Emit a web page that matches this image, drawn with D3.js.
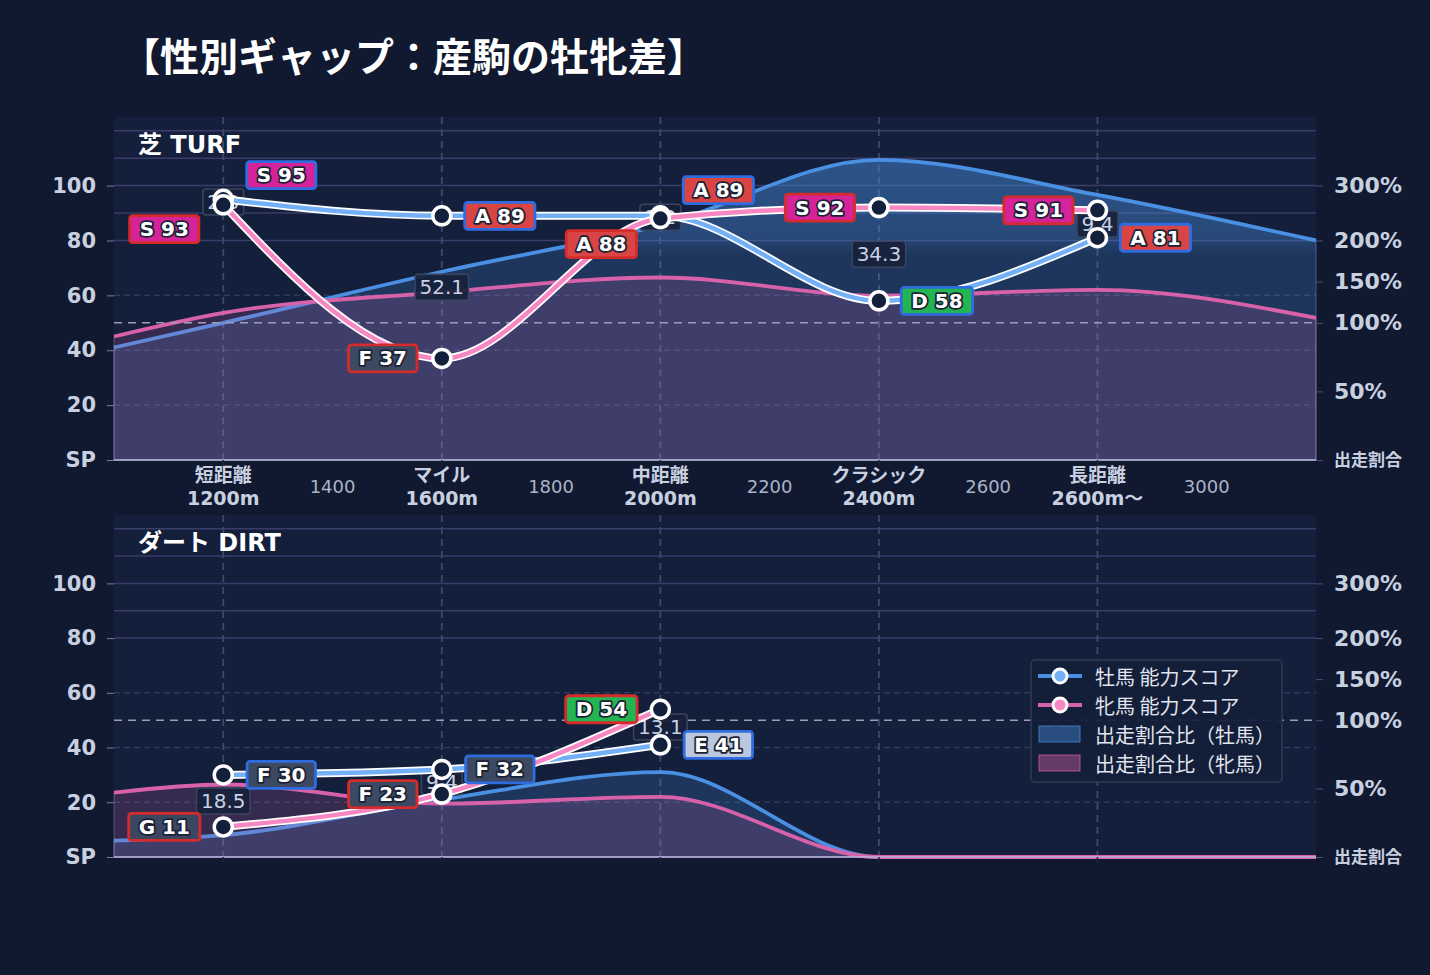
<!DOCTYPE html>
<html lang="ja">
<head>
<meta charset="utf-8">
<title>性別ギャップ：産駒の牡牝差</title>
<script src="https://cdn.jsdelivr.net/npm/d3@7/dist/d3.min.js"></script>
<style>
	html, body { margin: 0; padding: 0; background: #10192f; }
	svg { display: block; }
	text { font-family: "DejaVu Sans", "Noto Sans CJK JP", sans-serif; }
</style>
</head>
<body>
<svg id="chart" width="1430" height="975"></svg>
<script>
// categories / x axis
var categories = ['短距離', 'マイル', '中距離', 'クラシック', '長距離'];
var categoryDistances = [1200, 1600, 2000, 2400, 2800];
var categorySubLabels = ['1200m', '1600m', '2000m', '2400m', '2600m〜'];
var minorDistances = [1400, 1800, 2200, 2600, 3000];

// y axes
var scoreTicks = [0, 20, 40, 60, 80, 100];
var scoreTickLabels = ['SP', '20', '40', '60', '80', '100'];
var shareTicks = [0, 0.5, 1, 1.5, 2, 3];
var shareTickLabels = ['出走割合', '50%', '100%', '150%', '200%', '300%'];

// 芝 TURF
var turfMaleScore = [95, 89, 89, 58, 81];
var turfFemaleScore = [93, 37, 88, 92, 91];
var turfMaleGrade = ['S', 'A', 'A', 'D', 'A'];
var turfFemaleGrade = ['S', 'F', 'A', 'S', 'S'];
var turfGap = ['2.3', '52.1', '1.2', '34.3', '9.4'];

// ダート DIRT
var dirtMaleScore = [30, 32, 41, null, null];
var dirtFemaleScore = [11, 23, 54, null, null];
var dirtMaleGrade = ['F', 'F', 'E', null, null];
var dirtFemaleGrade = ['G', 'F', 'D', null, null];
var dirtGap = ['18.5', '9.4', '13.1', null, null];

// 出走割合比 (share ratio by distance)
var shareDistances = [1000, 1200, 1600, 2000, 2400, 2800, 3200];
var turfMaleShare = [0.82, 1.0, 1.62, 2.28, 3.47, 2.83, 2.0];
var turfFemaleShare = [0.90, 1.12, 1.37, 1.55, 1.33, 1.40, 1.06];
var dirtMaleShare = [0.12, 0.16, 0.42, 0.62, 0, 0, 0];
var dirtFemaleShare = [0.47, 0.53, 0.39, 0.44, 0, 0, 0];

var legendLabels = ['牡馬 能力スコア', '牝馬 能力スコア', '出走割合比（牡馬）', '出走割合比（牝馬）'];

(function () {
	'use strict';
	var svg, defs, x, shareToScore,
		gradeFill, maleColor, femaleColor,
		// Functions
		drawPanel, drawLabelBox, drawGapBox, drawLegend, buildSeries;

	svg = d3.select('#chart');
	defs = svg.append('defs');

	maleColor = { area: '#4a90e2', line: '#74b0f8', border: '#2f6ce0' };
	femaleColor = { area: '#d862aa', line: '#f787c2', border: '#d42b2b' };
	gradeFill = { S: '#d5239a', A: '#d94545', D: '#22b552', E: '#bcc6dc', F: '#3b4962', G: '#3b4760' };

	x = d3.scaleLinear().domain([1000, 3200]).range([114, 1316]);

	// right axis is not linear: 100% sits on 50, 200% on 80, 300% on 100
	shareToScore = d3.scaleLinear().domain([0, 1, 1.5, 2, 3, 4]).range([0, 50, 65, 80, 100, 120]);

	// background
	svg.append('rect').attr('width', 1430).attr('height', 975).attr('fill', '#10192f');

	svg.append('text')
		.attr('x', 121)
		.attr('y', 71)
		.attr('fill', '#ffffff')
		.attr('font-size', 39)
		.attr('font-weight', 'bold')
		.style('font-family', '"Noto Sans CJK JP", sans-serif')
		.text('【性別ギャップ：産駒の牡牝差】');

	buildSeries = function (scores, grades, gaps) {
		return categoryDistances.map(function (d, i) {
			return { dist: d, score: scores[i], grade: grades[i], gap: gaps ? gaps[i] : null };
		}).filter(function (d) { return d.score !== null; });
	};

	drawLabelBox = function (g, cx, cy, grade, score, border) {
		var box = g.append('g'), t, w;
		t = box.append('text')
			.attr('x', cx)
			.attr('y', cy)
			.attr('text-anchor', 'middle')
			.attr('dominant-baseline', 'central')
			.attr('font-size', 20)
			.attr('font-weight', 'bold')
			.attr('fill', '#ffffff')
			.attr('stroke', '#1b2236')
			.attr('stroke-width', 3.5)
			.attr('paint-order', 'stroke')
			.attr('stroke-linejoin', 'round')
			.text(grade + ' ' + score);
		w = t.node().getComputedTextLength() + 20;
		box.insert('rect', 'text')
			.attr('x', cx - w / 2)
			.attr('y', cy - 13.5)
			.attr('width', w)
			.attr('height', 27)
			.attr('rx', 3)
			.attr('fill', gradeFill[grade])
			.attr('stroke', border)
			.attr('stroke-width', 2.8);
	};

	drawGapBox = function (g, cx, cy, label) {
		var box = g.append('g'), t, w;
		t = box.append('text')
			.attr('x', cx)
			.attr('y', cy)
			.attr('text-anchor', 'middle')
			.attr('dominant-baseline', 'central')
			.attr('font-size', 20)
			.attr('fill', '#c9d2e3')
			.text(label);
		w = t.node().getComputedTextLength() + 9;
		box.insert('rect', 'text')
			.attr('x', cx - w / 2)
			.attr('y', cy - 13)
			.attr('width', w)
			.attr('height', 26)
			.attr('rx', 3)
			.attr('fill', '#17213b')
			.attr('fill-opacity', 0.92)
			.attr('stroke', '#3a4560')
			.attr('stroke-width', 1.5);
	};

	drawPanel = function (cfg) {
		var g = svg.append('g'),
			y, grad, area, line, shareLine, male, female, layer, gid;

		y = d3.scaleLinear().domain([0, 125]).range([cfg.bottom, cfg.top]);

		// panel background
		g.append('rect')
			.attr('x', x.range()[0])
			.attr('y', cfg.top)
			.attr('width', x.range()[1] - x.range()[0])
			.attr('height', cfg.bottom - cfg.top)
			.attr('fill', '#131f3b');

		// grid: solid band lines up top, dashed below
		g.selectAll('line.hgrid').data([80, 90, 100, 110, 120]).enter().append('line')
			.attr('x1', 114).attr('x2', 1316)
			.attr('y1', y).attr('y2', y)
			.attr('stroke', '#3a3c6a')
			.attr('stroke-width', 1.5);
		g.selectAll('line.hdash').data([20, 40, 60]).enter().append('line')
			.attr('x1', 114).attr('x2', 1316)
			.attr('y1', y).attr('y2', y)
			.attr('stroke', '#2d3a5a')
			.attr('stroke-width', 1.5)
			.attr('stroke-dasharray', '6,4');
		g.selectAll('line.vgrid').data(categoryDistances).enter().append('line')
			.attr('x1', x).attr('x2', x)
			.attr('y1', cfg.top).attr('y2', cfg.bottom)
			.attr('stroke', '#3e4a69')
			.attr('stroke-width', 1.8)
			.attr('stroke-dasharray', '7,5');

		// share ratio areas
		gid = 'grad-' + cfg.key;
		grad = defs.append('linearGradient')
			.attr('id', gid)
			.attr('gradientUnits', 'userSpaceOnUse')
			.attr('x1', 0).attr('x2', 0)
			.attr('y1', cfg.top).attr('y2', cfg.bottom);
		grad.append('stop').attr('offset', 0).attr('stop-color', maleColor.area).attr('stop-opacity', 0.52);
		grad.append('stop').attr('offset', 0.34).attr('stop-color', maleColor.area).attr('stop-opacity', 0.38);
		grad.append('stop').attr('offset', 0.4).attr('stop-color', maleColor.area).attr('stop-opacity', 0.2);
		grad.append('stop').attr('offset', 1).attr('stop-color', maleColor.area).attr('stop-opacity', 0.2);

		area = d3.area()
			.x(function (d) { return x(d[0]); })
			.y0(cfg.bottom)
			.y1(function (d) { return y(shareToScore(d[1])); })
			.curve(d3.curveMonotoneX);
		shareLine = area.lineY1();

		[
			{ values: cfg.maleShare, fill: 'url(#' + gid + ')', color: maleColor.area },
			{ values: cfg.femaleShare, fill: 'rgba(216,98,170,0.18)', color: femaleColor.area }
		].forEach(function (s) {
			var pts = d3.zip(shareDistances, s.values);
			g.append('path')
				.attr('d', area(pts))
				.attr('fill', s.fill)
				.attr('stroke', 'rgba(190,180,235,0.35)')
				.attr('stroke-width', 1);
			g.append('path')
				.attr('d', shareLine(pts))
				.attr('fill', 'none')
				.attr('stroke', s.color)
				.attr('stroke-width', 3.8);
		});

		// 100% reference
		g.append('line')
			.attr('x1', 114).attr('x2', 1316)
			.attr('y1', y(shareToScore(1))).attr('y2', y(shareToScore(1)))
			.attr('stroke', '#9d9cb9')
			.attr('stroke-width', 1.6)
			.attr('stroke-dasharray', '8,6');

		// bottom axis line
		g.append('line')
			.attr('x1', 114).attr('x2', 1316)
			.attr('y1', cfg.bottom).attr('y2', cfg.bottom)
			.attr('stroke', '#bab5dd')
			.attr('stroke-width', 1.5);

		// left axis
		g.append('g')
			.attr('transform', 'translate(114,0)')
			.call(d3.axisLeft(y).tickValues(scoreTicks).tickSize(7).tickPadding(11)
				.tickFormat(function (d, i) { return scoreTickLabels[i]; }))
			.call(function (a) {
				a.select('.domain').remove();
				a.selectAll('line').attr('stroke', '#7a8199');
				a.selectAll('text')
					.attr('fill', '#c8d0e0')
					.attr('font-size', 21)
					.attr('font-weight', 'bold')
					.style('font-family', null);
			});

		// right axis
		g.append('g')
			.attr('transform', 'translate(1316,0)')
			.call(d3.axisRight(y).tickValues(shareTicks.map(shareToScore)).tickSize(7).tickPadding(11)
				.tickFormat(function (d, i) { return shareTickLabels[i]; }))
			.call(function (a) {
				a.select('.domain').remove();
				a.selectAll('line').attr('stroke', '#4a5470');
				a.selectAll('text')
					.attr('fill', '#c8d0e0')
					.attr('font-size', function (d, i) { return i === 0 ? 17 : 22; })
					.attr('font-weight', 'bold')
					.style('font-family', null);
			});

		// category ticks
		g.selectAll('line.xtick').data(categoryDistances).enter().append('line')
			.attr('x1', x).attr('x2', x)
			.attr('y1', cfg.bottom).attr('y2', cfg.bottom + 6)
			.attr('stroke', '#1c2336')
			.attr('stroke-width', 1.5);

		if (cfg.showXLabels) {
			categories.forEach(function (c, i) {
				g.append('text')
					.attr('x', x(categoryDistances[i]))
					.attr('y', cfg.bottom + 22)
					.attr('text-anchor', 'middle')
					.attr('fill', '#c8d0e0')
					.attr('font-size', 19)
					.attr('font-weight', 'bold')
					.text(c);
				g.append('text')
					.attr('x', x(categoryDistances[i]))
					.attr('y', cfg.bottom + 45)
					.attr('text-anchor', 'middle')
					.attr('fill', '#c8d0e0')
					.attr('font-size', 19)
					.attr('font-weight', 'bold')
					.text(categorySubLabels[i]);
			});
			g.selectAll('text.minor').data(minorDistances).enter().append('text')
				.attr('x', x)
				.attr('y', cfg.bottom + 33)
				.attr('text-anchor', 'middle')
				.attr('fill', '#aab4c8')
				.attr('font-size', 18)
				.text(function (d) { return d; });
		}

		// panel title
		g.append('text')
			.attr('x', 138)
			.attr('y', cfg.top + 36)
			.attr('fill', '#ffffff')
			.attr('font-size', 24)
			.attr('font-weight', 'bold')
			.text(cfg.title);

		// score lines
		male = buildSeries(cfg.maleScore, cfg.maleGrade, cfg.gap);
		female = buildSeries(cfg.femaleScore, cfg.femaleGrade, null);

		// gap boxes sit under the lines
		male.forEach(function (d, i) {
			var f = female[i];
			if (f && d.gap) {
				drawGapBox(g, x(d.dist), (y(d.score) + y(f.score)) / 2, d.gap);
			}
		});

		line = d3.line()
			.x(function (d) { return x(d.dist); })
			.y(function (d) { return y(d.score); })
			.curve(d3.curveMonotoneX);

		[[male, maleColor], [female, femaleColor]].forEach(function (s) {
			g.append('path').attr('d', line(s[0]))
				.attr('fill', 'none').attr('stroke', '#ffffff').attr('stroke-width', 8);
			g.append('path').attr('d', line(s[0]))
				.attr('fill', 'none').attr('stroke', s[1].line).attr('stroke-width', 4.5);
		});

		layer = g.append('g');
		male.concat(female).forEach(function (d) {
			layer.append('circle')
				.attr('cx', x(d.dist))
				.attr('cy', y(d.score))
				.attr('r', 9)
				.attr('fill', '#13203b')
				.attr('stroke', '#ffffff')
				.attr('stroke-width', 3.5);
		});

		// grade labels: male to the right, female to the left, pushed apart when close
		male.forEach(function (d, i) {
			var f = female[i], ym = y(d.score), yf = y(f.score), mid;
			if (Math.abs(ym - yf) < 20) {
				mid = (ym + yf) / 2;
				ym = mid - 27;
				yf = mid + 27;
			}
			drawLabelBox(g, x(d.dist) + 58, ym, d.grade, d.score, maleColor.border);
			drawLabelBox(g, x(f.dist) - 59, yf, f.grade, f.score, femaleColor.border);
		});

		return g;
	};

	drawLegend = function (g) {
		var lg = g.append('g').attr('transform', 'translate(1031,660)');
		lg.append('rect')
			.attr('width', 251).attr('height', 122).attr('rx', 4)
			.attr('fill', '#141e38').attr('fill-opacity', 0.92)
			.attr('stroke', '#2f3a55').attr('stroke-width', 1.5);
		[maleColor, femaleColor].forEach(function (c, i) {
			var yy = 16 + i * 29;
			lg.append('line').attr('x1', 7).attr('x2', 51).attr('y1', yy).attr('y2', yy)
				.attr('stroke', c.area).attr('stroke-width', 4);
			lg.append('circle').attr('cx', 29).attr('cy', yy).attr('r', 7)
				.attr('fill', c.line).attr('stroke', '#ffffff').attr('stroke-width', 3);
		});
		[maleColor, femaleColor].forEach(function (c, i) {
			var yy = 74 + i * 29;
			lg.append('rect').attr('x', 8).attr('y', yy - 8).attr('width', 41).attr('height', 16)
				.attr('fill', c.area).attr('fill-opacity', 0.42)
				.attr('stroke', c.area).attr('stroke-opacity', 0.6).attr('stroke-width', 1.2);
		});
		legendLabels.forEach(function (t, i) {
			lg.append('text')
				.attr('x', 64)
				.attr('y', 16 + i * 29)
				.attr('dominant-baseline', 'central')
				.attr('fill', '#e0e4ee')
				.attr('font-size', 20)
				.style('font-family', '"Noto Sans CJK JP", sans-serif')
				.text(t);
		});
	};

	drawPanel({
		key: 'turf', title: '芝 TURF', top: 117, bottom: 460, showXLabels: true,
		maleScore: turfMaleScore, femaleScore: turfFemaleScore,
		maleGrade: turfMaleGrade, femaleGrade: turfFemaleGrade, gap: turfGap,
		maleShare: turfMaleShare, femaleShare: turfFemaleShare
	});

	drawLegend(drawPanel({
		key: 'dirt', title: 'ダート DIRT', top: 515, bottom: 857, showXLabels: false,
		maleScore: dirtMaleScore, femaleScore: dirtFemaleScore,
		maleGrade: dirtMaleGrade, femaleGrade: dirtFemaleGrade, gap: dirtGap,
		maleShare: dirtMaleShare, femaleShare: dirtFemaleShare
	}));
}());
</script>
</body>
</html>
